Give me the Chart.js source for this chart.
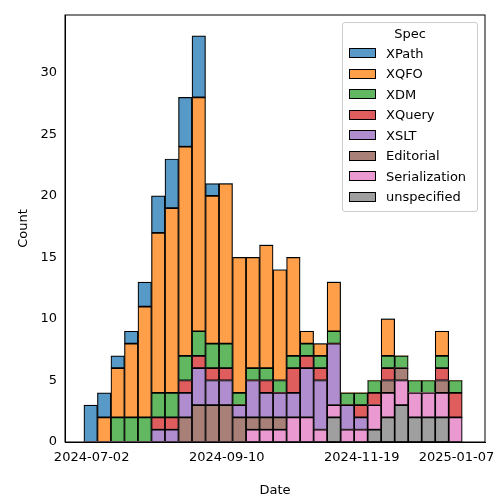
<!DOCTYPE html>
<html>
<head>
<meta charset="utf-8">
<script src="https://cdn.jsdelivr.net/npm/chart.js@4"></script>
<style>
  body { margin: 0; background: #fff; font-family: "DejaVu Sans", sans-serif; }
  #wrap { position: relative; width: 500px; height: 500px; }
  #legend { position: absolute; left: 342px; top: 22px; width: 134px; border: 1px solid #ccc; border-radius: 3px;
            background: rgba(255,255,255,0.8); font-size: 13px; padding: 3px 0 4px 0; }
  #legend .title { text-align: center; margin-bottom: 2px; }
  #legend .row { display: flex; align-items: center; height: 20.5px; padding-left: 6px; }
  #legend .sw { width: 27px; height: 10px; margin-right: 10px; border: 1px solid #000; box-sizing: border-box; }
</style>
</head>
<body>
<div id="wrap">
  <canvas id="chart" width="500" height="500"></canvas>
  <div id="legend"><div class="title">Spec</div></div>
</div>
<script>
// bins: 7 days each, day offsets from 2024-07-02, first bin starts at -4
const binStarts = Array.from({ length: 28 }, (_, i) => -4 + 7 * i);
const tickDays = [0, 70, 140, 189];
const tickLabels = ['2024-07-02', '2024-09-10', '2024-11-19', '2025-01-07'];

const specNames = ['XPath', 'XQFO', 'XDM', 'XQuery', 'XSLT', 'Editorial', 'Serialization', 'unspecified'];
const specColors = ['#5799c7', '#ff9f4a', '#61b861', '#e05d5e', '#af8dce', '#a98078', '#ea99d1', '#9f9f9f'];

const xpath =         [3,2,1,1,2,3,4,4,5,1,0,0,0,0,0,0,0,0,0,0,0,0,0,0,0,0,0,0];
const xqfo =          [0,2,4,6,9,13,15,17,19,12,13,11,9,10,9,8,1,1,4,0,0,0,3,0,0,0,2,0];
const xdm =           [0,0,2,2,2,2,2,2,2,2,2,1,1,1,1,1,1,1,1,1,1,1,1,1,1,1,1,1];
const xquery =        [0,0,0,0,0,1,1,1,1,1,1,0,0,1,0,2,1,1,0,0,1,1,1,0,0,0,1,2];
const xslt =          [0,0,0,0,0,1,1,2,3,2,2,1,3,2,2,2,4,4,5,2,1,0,0,0,0,0,0,0];
const editorial =     [0,0,0,0,0,0,0,2,3,3,3,2,1,1,1,0,0,0,0,0,0,0,1,1,0,0,1,0];
const serialization = [0,0,0,0,0,0,0,0,0,0,0,0,1,1,1,2,2,1,1,1,1,2,2,2,2,2,2,2];
const unspecified =   [0,0,0,0,0,0,0,0,0,0,0,0,0,0,0,0,0,0,2,0,0,1,2,3,2,2,2,0];

const seriesData = [xpath, xqfo, xdm, xquery, xslt, editorial, serialization, unspecified];

// legend
const legend = document.getElementById('legend');
specNames.forEach((name, i) => {
    const row = document.createElement('div');
    row.className = 'row';
    row.innerHTML = '<span class="sw" style="background:' + specColors[i] + '"></span>' + name;
    legend.appendChild(row);
});

// bottom of stack is last series (seaborn order)
const datasets = specNames.map((name, i) => ({
    label: name,
    data: seriesData[i].map((v, j) => ({ x: binStarts[j] + 3.5, y: v })),
    backgroundColor: specColors[i],
    borderColor: '#000',
    borderWidth: seriesData[i].map(v => v > 0 ? 1.2 : 0),
    borderSkipped: false,
    barPercentage: 1,
    categoryPercentage: 1
})).reverse();

const ctx = document.getElementById('chart').getContext('2d');
new Chart(ctx, {
    type: 'bar',
    data: { datasets },
    options: {
        responsive: false,
        animation: false,
        layout: { padding: { top: 15, right: 15, left: 12, bottom: 0 } },
        scales: {
            x: {
                type: 'linear',
                stacked: true,
                offset: false,
                min: -13.8,
                max: 203.8,
                grid: { display: false, offset: false, drawTicks: true, tickLength: 5, tickColor: '#000' },
                border: { color: '#000', width: 1 },
                afterBuildTicks: axis => { axis.ticks = tickDays.map(v => ({ value: v })); },
                afterFit: axis => { axis.height = 58; },
                ticks: {
                    color: '#000',
                    font: { family: 'DejaVu Sans', size: 13 },
                    maxRotation: 0,
                    autoSkip: false,
                    callback: v => tickLabels[tickDays.indexOf(v)]
                },
                title: { display: true, text: 'Date', color: '#000', font: { family: 'DejaVu Sans', size: 13 }, padding: 2 }
            },
            y: {
                stacked: true,
                min: 0,
                max: 34.7,
                grid: { display: false, drawTicks: true, tickLength: 5, tickColor: '#000' },
                border: { color: '#000', width: 1 },
                afterFit: axis => { axis.width = 53; },
                afterBuildTicks: axis => { axis.ticks = [0, 5, 10, 15, 20, 25, 30].map(v => ({ value: v })); },
                ticks: { color: '#000', font: { family: 'DejaVu Sans', size: 13 } },
                title: { display: true, text: 'Count', color: '#000', font: { family: 'DejaVu Sans', size: 13 }, padding: 4 }
            }
        },
        plugins: {
            legend: { display: false },
            tooltip: { enabled: false }
        }
    },
    plugins: [{
        id: 'frame',
        afterDraw: chart => {
            const a = chart.chartArea, c = chart.ctx;
            c.save();
            c.strokeStyle = '#000';
            c.lineWidth = 1;
            c.strokeRect(a.left, a.top, a.right - a.left, a.bottom - a.top);
            c.restore();
        }
    }]
});
</script>
</body>
</html>
